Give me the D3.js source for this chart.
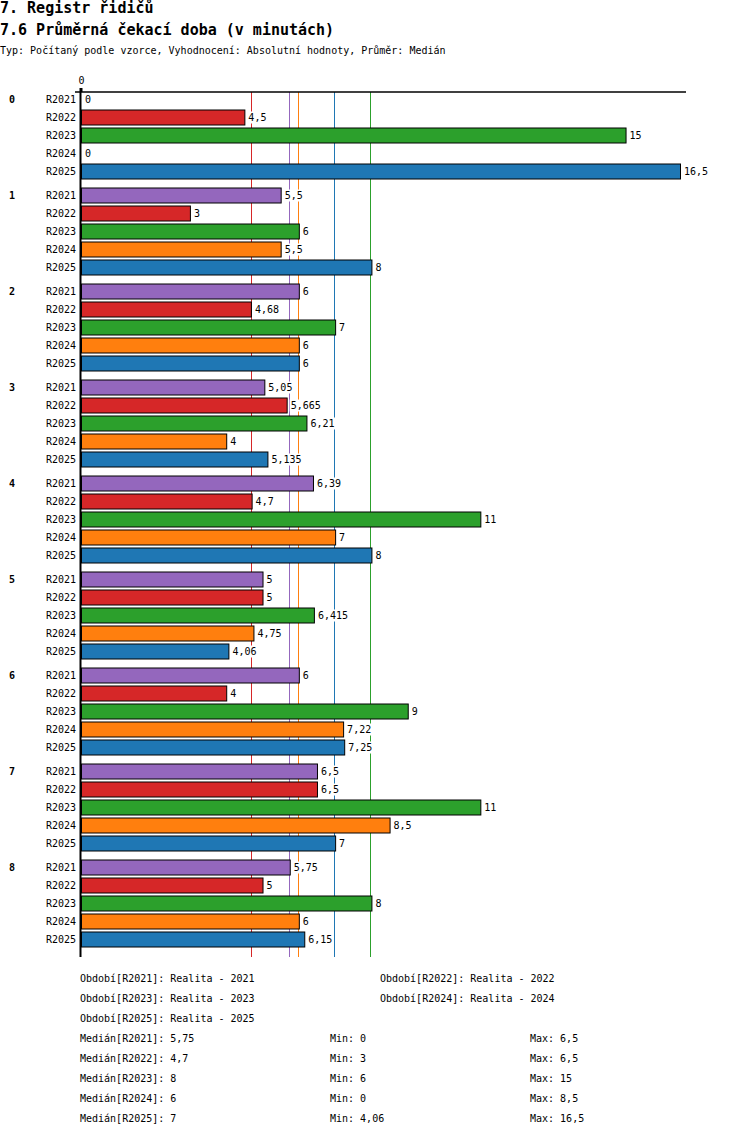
<!DOCTYPE html>
<html>
<head>
<meta charset="utf-8">
<script src="https://cdn.jsdelivr.net/npm/d3@7"></script>
<style>
  body { margin: 0; background: #fff; }
  text { font-family: "DejaVu Sans Mono", "Liberation Mono", monospace; }
</style>
</head>
<body>
<div id="chart"></div>
<script>
// ==== Data ====
const groups = ["0", "1", "2", "3", "4", "5", "6", "7", "8"];
const series = ["R2021", "R2022", "R2023", "R2024", "R2025"];
const seriesNames = ["Realita - 2021", "Realita - 2022", "Realita - 2023", "Realita - 2024", "Realita - 2025"];
const colors = ["#9467bd", "#d62728", "#2ca02c", "#ff7f0e", "#1f77b4"];

const r2021 = [0, 5.5, 6, 5.05, 6.39, 5, 6, 6.5, 5.75];
const r2022 = [4.5, 3, 4.68, 5.665, 4.7, 5, 4, 6.5, 5];
const r2023 = [15, 6, 7, 6.21, 11, 6.415, 9, 11, 8];
const r2024 = [0, 5.5, 6, 4, 7, 4.75, 7.22, 8.5, 6];
const r2025 = [16.5, 8, 6, 5.135, 8, 4.06, 7.25, 7, 6.15];
const values = [r2021, r2022, r2023, r2024, r2025];

const medians = [5.75, 4.7, 8, 6, 7];
const mins = [0, 3, 6, 0, 4.06];
const maxs = [6.5, 6.5, 15, 8.5, 16.5];

const title = "7. Registr řidičů";
const subtitle = "7.6 Průměrná čekací doba (v minutách)";
const note = "Typ: Počítaný podle vzorce, Vyhodnocení: Absolutní hodnoty, Průměr: Medián";

const fmt = v => String(v).replace(".", ",");

// ==== Chart ====
const width = 750, height = 1136;
const svg = d3.select("#chart").append("svg")
    .attr("width", width)
    .attr("height", height);

svg.append("text").attr("x", 0).attr("y", 13)
    .style("font-size", "15px").style("font-weight", "bold").text(title);
svg.append("text").attr("x", 0).attr("y", 35)
    .style("font-size", "15px").style("font-weight", "bold").text(subtitle);
svg.append("text").attr("x", 0).attr("y", 54)
    .style("font-size", "10px").text(note);

const axisY = 92;
const x = d3.scaleLinear().domain([0, 16.5]).range([81, 680]);
const y0 = d3.scaleBand().domain(groups).range([axisY - 2, axisY - 2 + groups.length * 96]);
const y1 = d3.scaleBand().domain(series).range([0, 90]).paddingInner(3 / 18).paddingOuter(1.5 / 18);
const yEnd = 957;

// median lines (behind bars)
svg.append("g").selectAll("line")
    .data(medians)
    .join("line")
    .attr("x1", d => Math.round(x(d)) - 0.5)
    .attr("x2", d => Math.round(x(d)) - 0.5)
    .attr("y1", axisY)
    .attr("y2", yEnd)
    .attr("stroke", (d, i) => colors[i])
    .attr("stroke-width", 1);

// top axis
const axis = svg.append("g")
    .attr("transform", `translate(0,${axisY})`)
    .call(d3.axisTop(x).tickValues([0]).tickSize(4).tickSizeOuter(0).tickFormat(d => d));
axis.select(".domain").remove();
axis.selectAll("text").style("font-size", "10px").style("font-family", "DejaVu Sans Mono").attr("dy", "-0.1em");
axis.selectAll("line").attr("stroke-width", 2);

svg.append("line")
    .attr("x1", x(0) - 6).attr("x2", x(16.5) + 6)
    .attr("y1", axisY).attr("y2", axisY)
    .attr("stroke", "#000").attr("stroke-width", 1.5);

// rows
const rows = [];
groups.forEach((g, gi) => {
    series.forEach((s, si) => {
        rows.push({ group: g, gi, series: s, si, value: values[si][gi] });
    });
});

const rowG = svg.append("g").selectAll("g")
    .data(rows)
    .join("g")
    .attr("transform", d => `translate(0,${y0(d.group) + y1(d.series)})`);

rowG.filter(d => d.value > 0).append("rect")
    .attr("x", x(0) + 0.5)
    .attr("y", 0.5)
    .attr("width", d => x(d.value) - x(0))
    .attr("height", y1.bandwidth())
    .attr("fill", d => colors[d.si])
    .attr("stroke", "#000")
    .attr("stroke-width", 1);

rowG.append("text")
    .attr("x", x(0) - 5)
    .attr("y", y1.bandwidth() / 2 + 0.5)
    .attr("dy", "0.35em")
    .attr("text-anchor", "end")
    .style("font-size", "10px")
    .text(d => d.series);

// value labels with white background
const lbl = rowG.append("g")
    .attr("transform", d => `translate(${x(d.value) + 4},${y1.bandwidth() / 2 + 0.5})`);
lbl.append("rect")
    .attr("x", -1)
    .attr("y", -6)
    .attr("width", d => fmt(d.value).length * 6 + 2)
    .attr("height", 12)
    .attr("fill", "#fff");
lbl.append("text")
    .attr("dy", "0.35em")
    .style("font-size", "10px")
    .text(d => fmt(d.value));

// group labels
svg.append("g").selectAll("text")
    .data(groups)
    .join("text")
    .attr("x", 9)
    .attr("y", d => y0(d) + y1(series[0]) + y1.bandwidth() / 2 + 0.5)
    .attr("dy", "0.35em")
    .style("font-size", "10px")
    .style("font-weight", "bold")
    .text(d => d);

// y axis line
svg.append("line")
    .attr("x1", x(0) - 0.5).attr("x2", x(0) - 0.5)
    .attr("y1", axisY - 4).attr("y2", yEnd)
    .attr("stroke", "#000").attr("stroke-width", 2);

// ==== Legend ====
const legend = svg.append("g").style("font-size", "10px");
series.forEach((s, i) => {
    legend.append("text")
        .attr("x", i % 2 === 0 ? 80 : 380)
        .attr("y", 978 + Math.floor(i / 2) * 20)
        .attr("dy", "0.35em")
        .text(`Období[${s}]: ${seriesNames[i]}`);
});
series.forEach((s, i) => {
    const yy = 1038 + i * 20;
    legend.append("text").attr("x", 80).attr("y", yy).attr("dy", "0.35em")
        .text(`Medián[${s}]: ${fmt(medians[i])}`);
    legend.append("text").attr("x", 330).attr("y", yy).attr("dy", "0.35em")
        .text(`Min: ${fmt(mins[i])}`);
    legend.append("text").attr("x", 530).attr("y", yy).attr("dy", "0.35em")
        .text(`Max: ${fmt(maxs[i])}`);
});
</script>
</body>
</html>
